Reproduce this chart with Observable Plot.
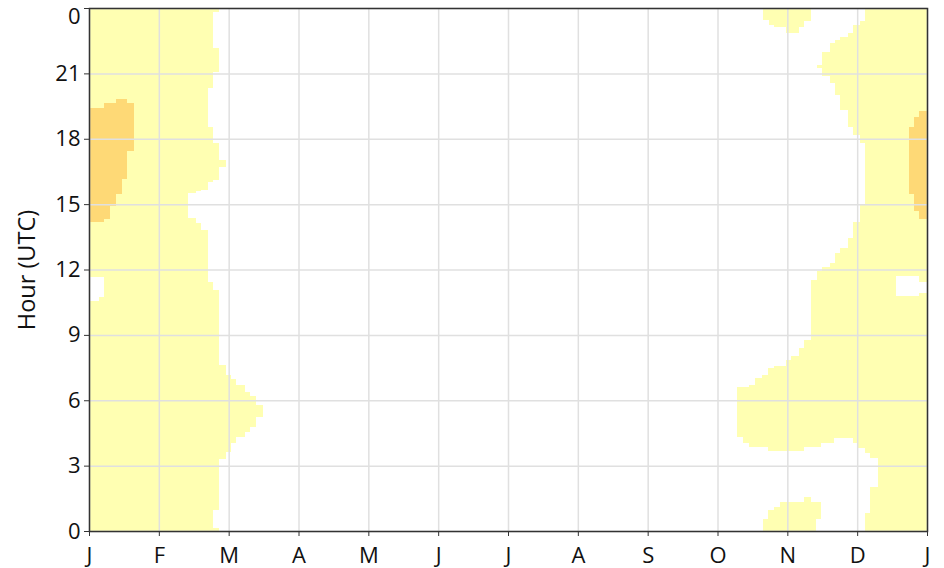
<!DOCTYPE html>
<html>
<head>
<meta charset="utf-8">
<script src="https://cdn.jsdelivr.net/npm/d3@7"></script>
<script src="https://cdn.jsdelivr.net/npm/@observablehq/plot@0.6"></script>
<style>
  html, body { margin: 0; padding: 0; background: #fff; }
  #chart svg { display: block; }
</style>
</head>
<body>
<div id="chart"></div>
<script>
// x = month of year (0 = 1 Jan, 12 = next 1 Jan), y = hour (UTC)
const monthTicks = [0, 1, 2, 3, 4, 5, 6, 7, 8, 9, 10, 11, 12];
const monthLabels = ["J", "F", "M", "A", "M", "J", "J", "A", "S", "O", "N", "D", "J"];
const hourTicks = [0, 3, 6, 9, 12, 15, 18, 21, 24];
const hourLabels = ["0", "3", "6", "9", "12", "15", "18", "21", "0"];
const yLabel = "Hour (UTC)";

// cells: [hourFrom, hourTo, monthFrom, monthTo]
const yellowWinterStart = [
  [23.83, 24, 0, 1.859], [22.15, 23.83, 0, 1.777], [21.08, 22.15, 0, 1.859],
  [20.32, 21.08, 0, 1.777], [18.55, 20.32, 0, 1.705], [17.79, 18.55, 0, 1.777],
  [17.03, 17.79, 0, 1.859], [16.72, 17.03, 0, 1.955], [16.11, 16.72, 0, 1.859],
  [16.03, 16.11, 0, 1.777], [15.65, 16.03, 0, 1.705], [15.58, 15.65, 0, 1.60],
  [15.50, 15.58, 0, 1.529], [14.35, 15.50, 0, 1.419], [14.12, 14.35, 0, 1.529],
  [13.81, 14.12, 0, 1.60], [11.67, 13.81, 0, 1.705], [11.44, 11.67, 0.215, 1.705],
  [11.06, 11.44, 0.215, 1.777], [10.75, 11.06, 0.215, 1.859], [10.56, 10.75, 0.139, 1.859],
  [7.62, 10.56, 0, 1.859], [7.16, 7.62, 0, 1.955], [6.96, 7.16, 0, 2.031],
  [6.70, 6.96, 0, 2.112], [6.39, 6.70, 0, 2.231], [6.20, 6.39, 0, 2.303],
  [5.78, 6.20, 0, 2.389], [5.25, 5.78, 0, 2.485], [4.79, 5.25, 0, 2.389],
  [4.56, 4.79, 0, 2.303], [4.33, 4.56, 0, 2.231], [4.02, 4.33, 0, 2.112],
  [3.64, 4.02, 0, 2.031], [3.30, 3.64, 0, 1.955], [0.96, 3.30, 0, 1.859],
  [0.12, 0.96, 0, 1.777], [0, 0.12, 0, 1.859]
];

const yellowWinterEnd = [
  [23.42, 24, 11.117, 12], [23.22, 23.42, 11.045, 12], [22.87, 23.22, 10.935, 12],
  [22.66, 22.87, 10.863, 12], [22.53, 22.66, 10.758, 12], [22.38, 22.53, 10.686, 12],
  [22.00, 22.38, 10.605, 12], [21.39, 22.00, 10.496, 12], [21.23, 21.39, 10.424, 12],
  [20.88, 21.23, 10.496, 12], [20.55, 20.88, 10.605, 12], [20.01, 20.55, 10.677, 12],
  [19.32, 20.01, 10.748, 12], [18.55, 19.32, 10.863, 12], [18.17, 18.55, 10.935, 12],
  [17.79, 18.17, 11.045, 12], [14.96, 17.79, 11.117, 12], [14.19, 14.96, 11.045, 12],
  [13.43, 14.19, 10.935, 12], [12.97, 13.43, 10.863, 12], [12.74, 12.97, 10.748, 12],
  [12.29, 12.74, 10.677, 12], [12.13, 12.29, 10.605, 12], [11.95, 12.13, 10.496, 12],
  [11.70, 11.95, 10.424, 12],
  [11.52, 11.70, 10.424, 11.56], [11.44, 11.52, 10.342, 11.56], [11.44, 11.70, 11.89, 12],
  [10.91, 11.44, 10.342, 11.56],
  [10.78, 10.91, 10.342, 11.56], [10.78, 10.91, 11.89, 12],
  [8.77, 10.78, 10.342, 12], [8.38, 8.77, 10.232, 12], [8.03, 8.38, 10.161, 12],
  [7.85, 8.03, 10.051, 12], [7.57, 7.85, 9.984, 12], [7.47, 7.57, 9.812, 12],
  [7.16, 7.47, 9.722, 12], [7.01, 7.16, 9.636, 12], [6.70, 7.01, 9.540, 12],
  [6.62, 6.70, 9.458, 12], [4.33, 6.62, 9.278, 12], [4.25, 4.33, 9.358, 12],
  [4.02, 4.25, 9.358, 10.663], [4.02, 4.25, 10.935, 12],
  [3.87, 4.02, 9.458, 10.486], [3.87, 4.02, 10.997, 12],
  [3.80, 3.87, 9.722, 10.232], [3.80, 3.87, 10.997, 12],
  [3.69, 3.80, 9.722, 10.232], [3.69, 3.80, 11.117, 12],
  [3.57, 3.69, 11.117, 12], [3.34, 3.57, 11.188, 12], [2.03, 3.34, 11.293, 12],
  [0.81, 2.03, 11.188, 12], [0, 0.81, 11.117, 12]
];

const yellowNovember = [
  [23.45, 24, 9.650, 9.731], [23.22, 24, 9.731, 9.812], [23.12, 24, 9.812, 9.984],
  [22.87, 24, 9.984, 10.161], [23.12, 24, 10.161, 10.232], [23.42, 24, 10.232, 10.342],
  [0, 0.54, 9.650, 9.722], [0, 0.96, 9.722, 9.812], [0, 1.12, 9.812, 9.898],
  [0, 1.35, 9.898, 10.232], [0, 1.55, 10.232, 10.342], [0, 1.35, 10.342, 10.414],
  [0.54, 1.35, 10.414, 10.486]
];

const orangeJanuary = [
  [19.63, 19.81, 0.393, 0.550], [19.40, 19.63, 0.215, 0.645], [17.45, 19.40, 0, 0.645],
  [16.15, 17.45, 0, 0.550], [15.47, 16.15, 0, 0.469], [14.93, 15.47, 0, 0.393],
  [14.32, 14.93, 0, 0.297], [14.17, 14.32, 0, 0.215]
];

const orangeDecember = [
  [19.01, 19.27, 11.890, 12], [18.53, 19.01, 11.809, 12], [15.47, 18.53, 11.737, 12],
  [14.70, 15.47, 11.809, 12], [14.32, 14.70, 11.890, 12]
];

const toCells = rows => rows.map(([h1, h2, m1, m2]) => ({h1, h2, m1, m2}));
const yellowCells = toCells([...yellowWinterStart, ...yellowWinterEnd, ...yellowNovember]);
const orangeCells = toCells([...orangeJanuary, ...orangeDecember]);
const hourText = d => hourLabels[hourTicks.indexOf(d)];
const topHour = hourTicks[hourTicks.length - 1];

const chart = Plot.plot({
  width: 944,
  height: 568,
  marginLeft: 89,
  marginRight: 17,
  marginTop: 8,
  marginBottom: 37,
  style: {fontFamily: "'Open Sans', 'Noto Sans', sans-serif", fontSize: "22px", background: "#fff", color: "#111"},
  x: {domain: [0, 12]},
  y: {domain: [0, 24]},
  marks: [
    Plot.rect(yellowCells, {x1: "m1", x2: "m2", y1: "h1", y2: "h2", fill: "#ffffb2", inset: 0, shapeRendering: "crispEdges"}),
    Plot.rect(orangeCells, {x1: "m1", x2: "m2", y1: "h1", y2: "h2", fill: "#fed976", inset: 0, shapeRendering: "crispEdges"}),
    Plot.gridX(monthTicks, {stroke: "#e0e0e0", strokeOpacity: 1, strokeWidth: 1.5}),
    Plot.gridY(hourTicks, {stroke: "#e0e0e0", strokeOpacity: 1, strokeWidth: 1.5}),
    Plot.frame({stroke: "#333", strokeWidth: 1.5}),
    Plot.axisX(monthTicks, {tickFormat: d => monthLabels[d], tickSize: 5, tickPadding: 11, fontSize: 22, label: null, stroke: "#333"}),
    Plot.axisY(hourTicks, {tickFormat: d => d === topHour ? "" : hourText(d), tickSize: 5, tickPadding: 4, fontSize: 22, label: null, stroke: "#333"}),
    Plot.text([topHour], {y: d => d, text: hourText, frameAnchor: "left", textAnchor: "end", dx: -9, dy: 8, fontSize: 22, fill: "#111"}),
    Plot.text([yLabel], {frameAnchor: "left", textAnchor: "middle", dx: -62, rotate: -90, fontSize: 23.5, fill: "#111"})
  ]
});
document.getElementById("chart").appendChild(chart);
</script>
</body>
</html>
